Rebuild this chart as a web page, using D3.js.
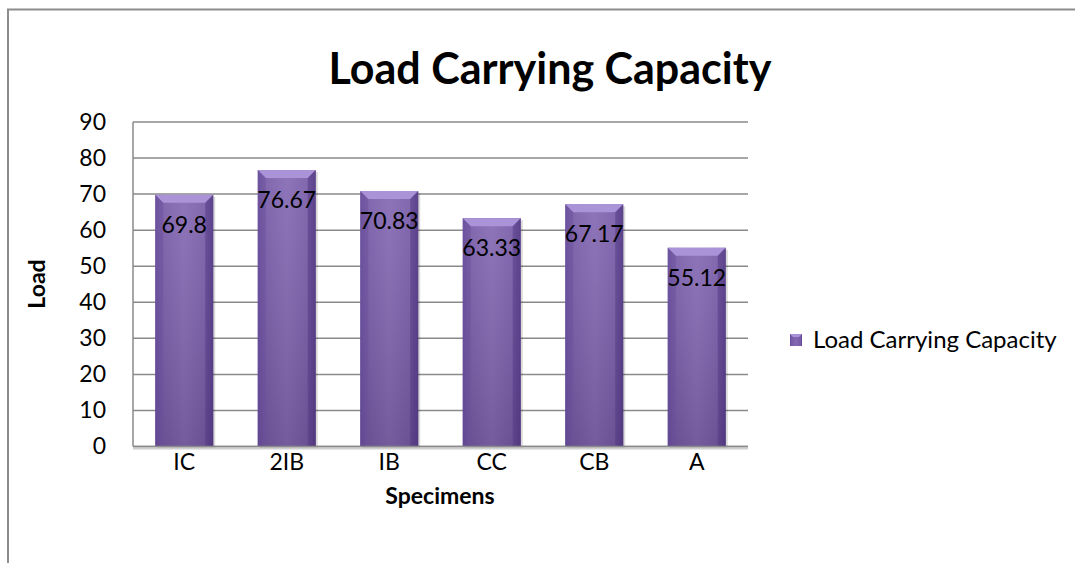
<!DOCTYPE html>
<html><head><meta charset="utf-8">
<script src="https://cdn.jsdelivr.net/npm/d3@7"></script>
<style>body{margin:0;background:#fff}svg{display:block}text{font-family:Lato,"Open Sans",sans-serif}</style>
</head><body><svg id="c" width="1075" height="563"></svg>
<script>
const categories = ["IC","2IB","IB","CC","CB","A"];
const values = [69.8,76.67,70.83,63.33,67.17,55.12];
const labels = ["69.8","76.67","70.83","63.33","67.17","55.12"];
const yTicks = [0,10,20,30,40,50,60,70,80,90];
const seriesName = "Load Carrying Capacity";

(function(){
const FS = 23;
const svg = d3.select("#c");
const defs = svg.append("defs");
const g1 = defs.append("linearGradient").attr("id","bar").attr("x1","0").attr("x2","1").attr("y1","0").attr("y2","0");
[[0,"#62469a"],[0.12,"#775ba7"],[0.5,"#8468b2"],[0.88,"#775ba7"],[1,"#5c418f"]].forEach(s=>g1.append("stop").attr("offset",s[0]).attr("stop-color",s[1]));
const g2 = defs.append("linearGradient").attr("id","barv").attr("x1","0").attr("x2","0").attr("y1","0").attr("y2","1");
[[0,"#ffffff",0.08],[1,"#000000",0.12]].forEach(s=>g2.append("stop").attr("offset",s[0]).attr("stop-color",s[1]).attr("stop-opacity",s[2]));

// outer border
svg.append("path").attr("d","M8,563 V9.5 H1075").attr("fill","none").attr("stroke","#8c8c8c").attr("stroke-width",2);

const pL=133, pR=748, pT=122, pB=446.5;
const x = d3.scaleBand().domain(categories).range([pL,pR]).paddingInner(0.434).paddingOuter(0.217);
const y = d3.scaleLinear().domain([0,90]).range([pB,pT]);

// gridlines
svg.append("g").selectAll("line").data(yTicks).join("line")
 .attr("x1",pL).attr("x2",pR).attr("y1",d=>y(d)).attr("y2",d=>y(d))
 .attr("stroke","#8a8a8a").attr("stroke-width",1.5);
svg.append("line").attr("x1",pL).attr("x2",pL).attr("y1",pT).attr("y2",pB).attr("stroke","#8a8a8a").attr("stroke-width",1.5);

// y axis labels
const ya = svg.append("g").attr("transform",`translate(${pL},0)`).call(d3.axisLeft(y).tickValues(yTicks).tickSize(0).tickPadding(27));
ya.select(".domain").remove();
ya.selectAll("text").attr("font-size",FS).attr("fill","#000").attr("font-family","Lato,'Open Sans',sans-serif");

// bars
const bars = svg.append("g").selectAll("g").data(categories).join("g");
bars.append("rect").attr("x",d=>x(d)+2).attr("y",(d,i)=>y(values[i])+2).attr("width",x.bandwidth()).attr("height",(d,i)=>pB-y(values[i]))
 .attr("fill","#000").attr("opacity",0.15);
bars.append("rect").attr("x",d=>x(d)).attr("y",(d,i)=>y(values[i])).attr("width",x.bandwidth()).attr("height",(d,i)=>pB-y(values[i]))
 .attr("fill","url(#bar)");
bars.append("rect").attr("x",d=>x(d)).attr("y",(d,i)=>y(values[i])).attr("width",x.bandwidth()).attr("height",(d,i)=>pB-y(values[i]))
 .attr("fill","url(#barv)");
bars.append("path").attr("d",(d,i)=>{const x0=x(d),x1=x0+x.bandwidth(),t=y(values[i]),b=8;return `M${x0},${t} H${x1} L${x1-b},${t+b} H${x0+b} Z`;})
 .attr("fill","#ab93d8");
bars.append("path").attr("d",(d,i)=>{const x0=x(d),t=y(values[i]),b=8;return `M${x0},${t} L${x0+b},${t+b} V${pB} H${x0} Z`;})
 .attr("fill","#6c509b").attr("opacity",0.5);
bars.append("path").attr("d",(d,i)=>{const x1=x(d)+x.bandwidth(),t=y(values[i]),b=8;return `M${x1},${t} L${x1-b},${t+b} V${pB} H${x1} Z`;})
 .attr("fill","#4f3580").attr("opacity",0.5);
bars.append("text").attr("x",d=>x(d)+x.bandwidth()/2).attr("y",(d,i)=>y(values[i])+38)
 .attr("text-anchor","middle").attr("font-size",FS).attr("fill","#000").text((d,i)=>labels[i]);

// x axis line with shadow
svg.append("line").attr("x1",pL).attr("x2",pR).attr("y1",pB+2).attr("y2",pB+2).attr("stroke","#cfcfcf").attr("stroke-width",2);
svg.append("line").attr("x1",pL).attr("x2",pR).attr("y1",pB).attr("y2",pB).attr("stroke","#8a8a8a").attr("stroke-width",1.5);

const xa = svg.append("g").attr("transform",`translate(0,${pB})`).call(d3.axisBottom(x).tickSize(0).tickPadding(7));
xa.select(".domain").remove();
xa.selectAll("text").attr("font-size",FS).attr("fill","#000").attr("font-family","Lato,'Open Sans',sans-serif");

// titles
svg.append("text").attr("x",550).attr("y",84).attr("text-anchor","middle").attr("font-size",43).attr("font-weight","bold").text("Load Carrying Capacity");
svg.append("text").attr("x",440).attr("y",504).attr("text-anchor","middle").attr("font-size",23).attr("font-weight","bold").text("Specimens");
svg.append("text").attr("transform","translate(45,284) rotate(-90)").attr("text-anchor","middle").attr("font-size",23).attr("font-weight","bold").text("Load");

// legend
const lg = svg.append("g").attr("transform","translate(790,334)");
lg.append("rect").attr("width",12).attr("height",12).attr("fill","url(#bar)");
lg.append("path").attr("d","M0,0 H12 L9,3 H3 Z").attr("fill","#ab93d8");
lg.append("text").attr("x",23).attr("y",14).attr("font-size",24).text(seriesName);
})();
</script></body></html>
